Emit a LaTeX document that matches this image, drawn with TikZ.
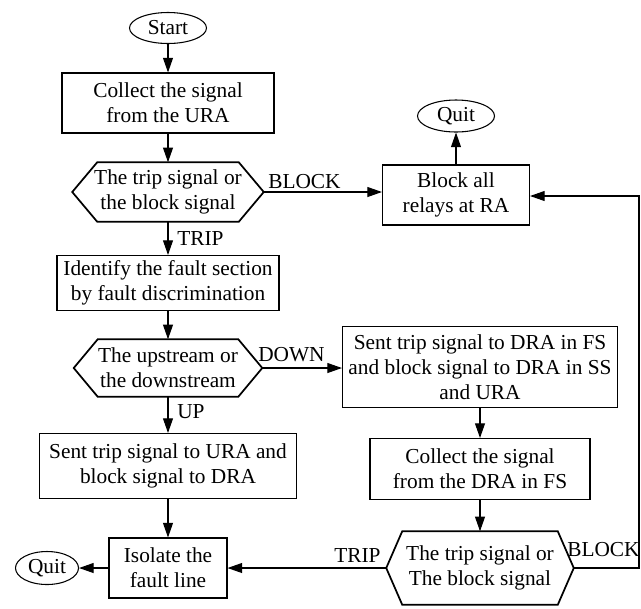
\documentclass[tikz,border=0pt]{standalone}
\usepackage{fontspec}
\setmainfont{Liberation Serif}
\usetikzlibrary{arrows.meta,shapes.geometric,positioning}
\def\px{0.75pt}

\begin{document}
\begin{tikzpicture}[x=0.75pt, y=-0.75pt,
every node/.style={font=\fontsize{16}{18.75}\selectfont, align=center},
box/.style={draw, line width=0.8pt, inner sep=0pt},
term/.style={draw, ellipse, line width=0.8pt, inner sep=0pt},
decision/.style={inner sep=0pt},
lbl/.style={anchor=west, inner sep=0pt},
arr/.style={-{Triangle[length=11pt,width=7.5pt]}, line width=0.8pt}]
\useasboundingbox (0,0) rectangle (641,608);

%left column
\node[term, minimum width=77*\px, minimum height=31*\px](start) at (168,28) {Start};
\node[box, minimum width=212*\px, minimum height=60*\px](col1) at (168,103) {Collect the signal\\from the URA};
\node[decision, minimum width=191*\px, minimum height=59*\px](dec1) at (168,192) {The trip signal or\\the block signal};
\node[box, minimum width=222*\px, minimum height=55*\px](ident) at (168,283) {Identify the fault section\\by fault discrimination};
\node[decision, minimum width=188*\px, minimum height=57*\px](dec2) at (168,368) {The upstream or\\the downstream};
\node[box, minimum width=257*\px, minimum height=65*\px](sentup) at (168,466) {Sent trip signal to URA and\\block signal to DRA};
\node[box, minimum width=118*\px, minimum height=60*\px](iso) at (168,568) {Isolate the\\fault line};
\node[term, minimum width=63*\px, minimum height=33*\px](quitb) at (47,568) {Quit};

%right column
\node[box, minimum width=147*\px, minimum height=60*\px](blk) at (456,195) {Block all\\relays at RA};
\node[term, minimum width=77*\px, minimum height=32*\px](quita) at (456,116) {Quit};
\node[box, minimum width=275*\px, minimum height=81*\px](sentdn) at (480,367) {Sent trip signal to DRA in FS\\and block signal to DRA in SS\\and URA};
\node[box, minimum width=220*\px, minimum height=61*\px](col2) at (480,469) {Collect the signal\\from the DRA in FS};
\node[decision, minimum width=187*\px, minimum height=73*\px](dec3) at (480,568) {The trip signal or\\The block signal};

%hexagons round the decisions
\foreach \d/\c in {dec1/25,dec2/24,dec3/16}{
	\draw[line width=1.3pt] (\d.west) -- ([xshift=\c*\px]\d.north west) -- ([xshift=-\c*\px]\d.north east)
		-- (\d.east) -- ([xshift=-\c*\px]\d.south east) -- ([xshift=\c*\px]\d.south west) -- cycle;
}

%straight arrows
\draw[arr] (start) -- (col1);
\draw[arr] (col1) -- (dec1);
\draw[arr] (dec1) -- (ident);
\draw[arr] (ident) -- (dec2);
\draw[arr] (dec2) -- (sentup);
\draw[arr] (sentup) -- (iso);
\draw[arr] (iso) -- (quitb);
\draw[arr] (blk) -- (quita);
\draw[arr] (sentdn) -- (col2);
\draw[arr] (col2) -- (dec3);
\draw[arr] (dec1.east) -- (dec1.east -| blk.west);
\draw[arr] (dec2.east) -- (dec2.east -| sentdn.west);
\draw[arr] (dec3.west) -- (iso.east);
\coordinate(rt) at (639,196);
\draw[arr] (dec3.east) -| (rt) -- (rt -| blk.east);

%branch labels
\node[lbl](l1) at (268,182) {BLOCK};
\node[lbl](l2) at (177,239) {TRIP};
\node[lbl](l3) at (258,355) {DOWN};
\node[lbl](l4) at (177,412) {UP};
\node[lbl](l5) at (334,555) {TRIP};
\node[lbl](l6) at (567,550) {BLOCK};
\end{tikzpicture}
\end{document}
